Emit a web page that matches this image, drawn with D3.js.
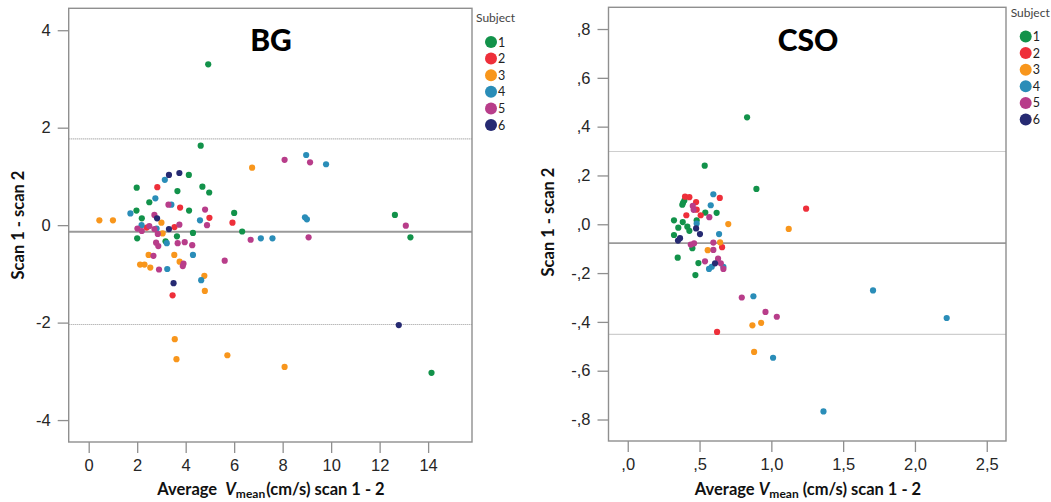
<!DOCTYPE html>
<html>
<head>
<meta charset="utf-8">
<script src="https://cdn.jsdelivr.net/npm/d3@7"></script>
<style>
  html, body { margin: 0; padding: 0; background: #fff; }
  svg { display: block; }
</style>
</head>
<body>
<svg id="chart" width="1051" height="502"></svg>
<script>
// ---- BG panel: [average Vmean, scan1 - scan2] per subject ----
const bgSubject1 = [[4.93,3.30],[4.62,1.63],[4.13,1.03],[1.98,0.77],[3.66,0.70],[4.69,0.79],[4.97,0.67],
  [2.50,0.47],[1.97,0.30],[4.14,0.30],[2.19,0.14],[2.00,-0.27],[3.64,-0.23],[4.30,-0.16],[3.17,-0.33],
  [6.00,0.25],[6.33,-0.13],[12.63,0.21],[13.27,-0.25],[14.14,-3.03]];
const bgSubject2 = [[2.83,0.78],[3.77,0.36],[4.98,0.15],[5.93,0.05],[2.39,-0.05],[3.54,-0.04],[3.46,-1.44]];
const bgSubject3 = [[6.74,1.18],[0.44,0.10],[1.00,0.10],[3.00,0.05],[3.05,-0.17],[2.47,-0.61],[3.53,-0.61],
  [2.12,-0.81],[2.30,-0.81],[2.54,-0.87],[3.75,-0.75],[4.77,-1.04],[4.79,-1.35],[3.55,-2.34],[3.62,-2.75],
  [5.72,-2.67],[8.08,-2.91]];
const bgSubject4 = [[3.14,0.93],[2.75,0.55],[3.41,0.42],[1.72,0.24],[4.59,0.10],[2.18,0.00],[2.80,-0.07],
  [3.22,-0.37],[4.30,-0.61],[3.24,-0.90],[4.64,-1.13],[7.10,-0.27],[7.58,-0.27],[8.92,0.16],[9.00,0.12],
  [8.97,1.44],[9.79,1.25]];
const bgSubject5 = [[3.29,0.42],[4.80,0.32],[2.71,0.21],[3.74,0.01],[2.01,-0.07],[2.19,-0.12],[2.50,-0.02],
  [2.71,-0.08],[2.85,-0.18],[2.78,-0.36],[2.87,-0.43],[3.67,-0.37],[3.96,-0.35],[4.27,-0.41],[2.67,-0.63],
  [2.90,-0.91],[3.91,-0.79],[3.88,-0.84],[5.61,-0.73],[6.68,-0.30],[8.08,1.34],[9.13,1.29],[9.07,-0.25],
  [13.08,-0.01],[4.88,0.00]];
const bgSubject6 = [[3.31,1.03],[3.74,1.07],[2.82,0.14],[3.31,-0.08],[3.50,-1.19],[12.79,-2.05]];
const bgMean = -0.135, bgUpper = 1.77, bgLower = -2.04;
const bgXTicks = [0, 2, 4, 6, 8, 10, 12, 14];
const bgYTicks = [-4, -2, 0, 2, 4];

// ---- CSO panel ----
const csoSubject1 = [[0.831,0.438],[0.536,0.240],[0.896,0.145],[0.394,0.097],[0.385,0.088],[0.380,0.080],
  [0.540,0.048],[0.619,0.047],[0.322,0.016],[0.383,0.009],[0.480,0.016],[0.352,-0.014],[0.415,-0.010],
  [0.429,-0.027],[0.322,-0.044],[0.450,-0.098],[0.348,-0.137],[0.492,-0.159],[0.471,-0.208]];
const csoSubject2 = [[0.399,0.113],[0.429,0.111],[0.641,0.108],[0.476,0.091],[0.480,0.060],[0.408,0.037],
  [0.508,0.037],[0.657,-0.094],[1.242,0.064],[0.622,-0.441]];
const csoSubject3 = [[0.700,0.001],[0.643,-0.074],[0.557,-0.106],[1.121,-0.019],[0.868,-0.414],
  [0.929,-0.404],[0.880,-0.523]];
const csoSubject4 = [[0.596,0.123],[0.578,0.078],[0.480,0.003],[0.636,-0.040],[0.566,-0.183],[0.585,-0.174],
  [0.666,-0.174],[0.875,-0.295],[1.012,-0.547],[1.363,-0.767],[1.708,-0.271],[2.221,-0.384]];
const csoSubject5 = [[0.453,0.075],[0.459,0.059],[0.568,0.029],[0.439,-0.083],[0.462,-0.078],[0.596,-0.075],
  [0.596,-0.105],[0.538,-0.152],[0.629,-0.141],[0.648,-0.160],[0.666,-0.183],[0.794,-0.300],[0.959,-0.359],
  [1.038,-0.379]];
const csoSubject6 = [[0.476,-0.017],[0.503,-0.040],[0.364,-0.057],[0.350,-0.067],[0.608,-0.160]];
const csoMean = -0.077, csoUpper = 0.298, csoLower = -0.451;
const csoXTicks = [0, 0.5, 1.0, 1.5, 2.0, 2.5];
const csoYTicks = [-0.8, -0.6, -0.4, -0.2, 0, 0.2, 0.4, 0.6, 0.8];

const subjects = ["1", "2", "3", "4", "5", "6"];
const subjectColors = ["#12924a", "#ee2f3a", "#f8961c", "#2a8db8", "#b83d8a", "#262a72"];

const svg = d3.select("#chart");
const color = d3.scaleOrdinal().domain(subjects).range(subjectColors);

// decimal comma without leading zero, e.g. ",8", "-,2", "1,5"
const commaFmt = v => {
  let s = d3.format(".1f")(Math.abs(v)).replace(/^0\./, ".").replace(".", ",");
  return (v < -1e-9 ? "-" : "") + s;
};
const plainFmt = v => (v < 0 ? "-" : "") + Math.abs(v);

function panel(cfg) {
  const g = svg.append("g");
  const x = d3.scaleLinear().domain(cfg.xDomain).range([cfg.left, cfg.right]);
  const y = d3.scaleLinear().domain(cfg.yDomain).range([cfg.bottom, cfg.top]);

  // reference lines: mean and limits of agreement
  g.append("line")
    .attr("x1", cfg.left).attr("x2", cfg.right)
    .attr("y1", y(cfg.mean)).attr("y2", y(cfg.mean))
    .attr("stroke", "#9a9a9a").attr("stroke-width", 1.8);
  [cfg.upper, cfg.lower].forEach(v => {
    g.append("line")
      .attr("x1", cfg.left).attr("x2", cfg.right)
      .attr("y1", y(v)).attr("y2", y(v))
      .attr("stroke", "#9c9c9c").attr("stroke-width", 1.1)
      .attr("stroke-dasharray", "1,1");
  });

  // frame
  g.append("rect")
    .attr("x", cfg.left).attr("y", cfg.top)
    .attr("width", cfg.right - cfg.left).attr("height", cfg.bottom - cfg.top)
    .attr("fill", "none").attr("stroke", "#8f8f8f").attr("stroke-width", 1.4);

  // axes
  const yAxis = g.append("g").attr("transform", `translate(${cfg.left},0)`)
    .call(d3.axisLeft(y).tickValues(cfg.yTicks).tickFormat(cfg.fmt).tickSize(11).tickPadding(7).tickSizeOuter(0));
  const xAxis = g.append("g").attr("transform", `translate(0,${cfg.bottom})`)
    .call(d3.axisBottom(x).tickValues(cfg.xTicks).tickFormat(cfg.fmt).tickSize(11).tickPadding(6).tickSizeOuter(0));
  [yAxis, xAxis].forEach(a => {
    a.select(".domain").remove();
    a.selectAll(".tick line").attr("stroke", "#8f8f8f").attr("stroke-width", 1.3);
    a.selectAll(".tick text").attr("fill", "#262626")
      .style("font-family", "'Liberation Sans', Arial, sans-serif").style("font-size", "16.5px");
  });

  // points
  cfg.series.forEach((pts, i) => {
    g.append("g").selectAll("circle").data(pts).join("circle")
      .attr("cx", d => x(d[0])).attr("cy", d => y(d[1])).attr("r", 3.1)
      .attr("fill", color(subjects[i]));
  });

  // title
  g.append("text")
    .attr("x", cfg.titleX).attr("y", 51)
    .attr("text-anchor", "middle")
    .style("font-family", "Lato, 'Open Sans', sans-serif").style("font-weight", 900).style("font-size", "30px")
    .attr("fill", "#000").text(cfg.title);

  // y label
  g.append("text")
    .attr("transform", `translate(${cfg.yLabelX},${cfg.yLabelY}) rotate(-90)`)
    .attr("text-anchor", "middle")
    .style("font-family", "Lato, sans-serif").style("font-weight", 700).style("font-size", "16.5px")
    .attr("fill", "#111").text("Scan 1 - scan 2");

  // x label with italic V and "mean" subscript
  const xl = g.append("text")
    .attr("x", cfg.xLabelX).attr("y", 495)
    .attr("text-anchor", "middle")
    .style("font-family", "Lato, sans-serif").style("font-weight", 700).style("font-size", "16.5px")
    .attr("fill", "#111");
  xl.append("tspan").text("Average");
  xl.append("tspan").attr("dx", cfg.gapV).style("font-style", "italic").text("V");
  xl.append("tspan").attr("dy", 3).style("font-size", "12px").text("mean");
  xl.append("tspan").attr("dy", -3).attr("dx", cfg.gapUnit).text("(cm/s) scan 1 - 2");

  // legend
  const lg = g.append("g");
  lg.append("text")
    .attr("x", cfg.legendX - 15).attr("y", cfg.legendTop)
    .style("font-family", "Lato, sans-serif").style("font-size", "12px")
    .attr("fill", "#444").text("Subject");
  subjects.forEach((s, i) => {
    const cy = cfg.legendTop + 20 + i * 16.6;
    lg.append("circle").attr("cx", cfg.legendX).attr("cy", cy).attr("r", 6).attr("fill", color(s));
    lg.append("text").attr("x", cfg.legendX + 7).attr("y", cy + 4.5)
      .style("font-family", "Lato, sans-serif").style("font-size", "12.5px")
      .attr("fill", "#222").text(s);
  });
}

panel({
  title: "BG", titleX: 271,
  left: 68.7, right: 472, top: 8.3, bottom: 442,
  xDomain: [-0.825, 15.81], yDomain: [-4.45, 4.45],
  xTicks: bgXTicks, yTicks: bgYTicks, fmt: plainFmt,
  mean: bgMean, upper: bgUpper, lower: bgLower,
  series: [bgSubject1, bgSubject2, bgSubject3, bgSubject4, bgSubject5, bgSubject6],
  yLabelX: 24, yLabelY: 225, xLabelX: 271, gapV: 8, gapUnit: 1,
  legendX: 491, legendTop: 22
});

panel({
  title: "CSO", titleX: 808,
  left: 608.5, right: 1006, top: 7.3, bottom: 441,
  xDomain: [-0.134, 2.634], yDomain: [-0.888, 0.889],
  xTicks: csoXTicks, yTicks: csoYTicks, fmt: commaFmt,
  mean: csoMean, upper: csoUpper, lower: csoLower,
  series: [csoSubject1, csoSubject2, csoSubject3, csoSubject4, csoSubject5, csoSubject6],
  yLabelX: 554, yLabelY: 222, xLabelX: 808, gapV: 4, gapUnit: 4,
  legendX: 1025.7, legendTop: 16.5
});
</script>
</body>
</html>
